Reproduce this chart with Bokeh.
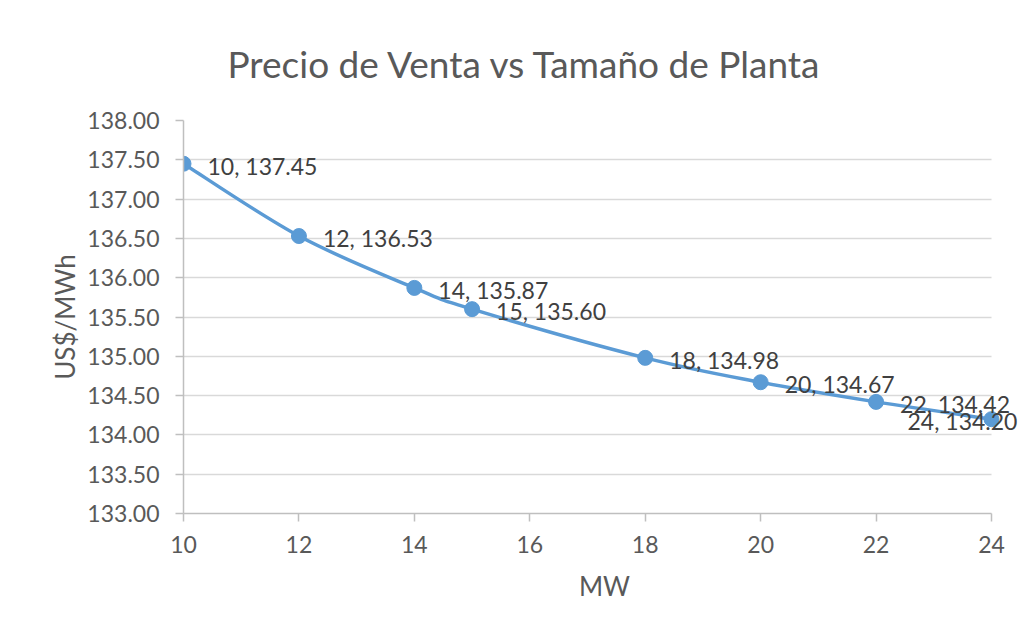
from bokeh.plotting import figure
from bokeh.models import (ColumnDataSource, LabelSet, NumeralTickFormatter,
                          FixedTicker, Range1d)
from bokeh.core.properties import value
from bokeh.embed import file_html
from bokeh.resources import INLINE

# ---- data ----
mw = [10, 12, 14, 15, 18, 20, 22, 24]
precio = [137.45, 136.53, 135.87, 135.60, 134.98, 134.67, 134.42, 134.20]
y_ticks = [133.0, 133.5, 134.0, 134.5, 135.0, 135.5, 136.0, 136.5, 137.0, 137.5, 138.0]
x_ticks = [10, 12, 14, 16, 18, 20, 22, 24]
title_text = "Precio de Venta vs Tamaño de Planta"
x_label = "MW"
y_label = "US$/MWh"

FONT = "Lato"
TEXT = "#595959"
BLUE = "#5b9bd5"

W, H = 1025, 630
LEFT, RIGHT_AXIS, TOP, BOTTOM = 183, 991, 120, 513
X0, X1 = x_ticks[0], x_ticks[-1]
# the frame runs to the canvas edge so the last data label is not clipped
x_end = X1 + (W - RIGHT_AXIS) / (RIGHT_AXIS - LEFT) * (X1 - X0)

p = figure(width=W, height=H, output_backend="svg", toolbar_location=None,
           x_range=Range1d(X0, x_end), y_range=Range1d(y_ticks[0], y_ticks[-1]),
           min_border_left=LEFT, min_border_right=0, min_border_top=TOP,
           min_border_bottom=H - BOTTOM)
p.outline_line_color = None
p.background_fill_color = "white"
p.border_fill_color = "white"

p.title.text = title_text
p.title.text_font = FONT
p.title.text_font_size = "37px"
p.title.text_font_style = "normal"
p.title.text_color = TEXT
p.title.align = "left"
p.title.offset = 44
p.title.standoff = 70

# axes
for ax in (p.xaxis[0], p.yaxis[0]):
    ax.axis_line_color = "#bfbfbf"
    ax.axis_line_width = 1.5
    ax.major_tick_line_color = "#bfbfbf"
    ax.major_tick_line_width = 1.5
    ax.major_tick_out = 8
    ax.major_tick_in = 0
    ax.minor_tick_line_color = None
    ax.major_label_text_font = FONT
    ax.major_label_text_font_size = "23px"
    ax.major_label_text_color = TEXT
    ax.axis_label_text_font = FONT
    ax.axis_label_text_font_size = "26px"
    ax.axis_label_text_font_style = "normal"
    ax.axis_label_text_color = TEXT

p.xaxis.ticker = FixedTicker(ticks=x_ticks)
p.xaxis.bounds = (X0, X1)
p.yaxis.ticker = FixedTicker(ticks=y_ticks)
p.yaxis.formatter = NumeralTickFormatter(format="0.00")
p.xaxis.axis_label = x_label
p.yaxis.axis_label = y_label
p.xaxis.major_label_standoff = 14
p.yaxis.major_label_standoff = 16
p.xaxis.axis_label_standoff = 14
p.yaxis.axis_label_standoff = 3

p.xgrid.grid_line_color = None
if "cross_bounds" in p.ygrid[0].properties():
    p.ygrid.grid_line_color = "#d9d9d9"
    p.ygrid.grid_line_width = 1.5
    p.ygrid.cross_bounds = (X0, X1)
else:
    p.ygrid.grid_line_color = None
    p.segment(x0=[X0] * len(y_ticks), x1=[X1] * len(y_ticks), y0=y_ticks, y1=y_ticks,
              line_color="#d9d9d9", line_width=1.5, level="underlay")

# smoothed line (Excel-style Catmull-Rom Bezier), control points from data
n = len(mw)
x0, y0, x1, y1, cx0, cy0, cx1, cy1 = [], [], [], [], [], [], [], []
for i in range(n - 1):
    pa = (mw[max(i - 1, 0)], precio[max(i - 1, 0)])
    pb = (mw[i], precio[i])
    pc = (mw[i + 1], precio[i + 1])
    pd = (mw[min(i + 2, n - 1)], precio[min(i + 2, n - 1)])
    x0.append(pb[0]); y0.append(pb[1]); x1.append(pc[0]); y1.append(pc[1])
    cx0.append(pb[0] + (pc[0] - pa[0]) / 6); cy0.append(pb[1] + (pc[1] - pa[1]) / 6)
    cx1.append(pc[0] - (pd[0] - pb[0]) / 6); cy1.append(pc[1] - (pd[1] - pb[1]) / 6)
p.bezier(x0=x0, y0=y0, x1=x1, y1=y1, cx0=cx0, cy0=cy0, cx1=cx1, cy1=cy1,
         line_color=BLUE, line_width=3.5)

src = ColumnDataSource(dict(
    x=mw, y=precio,
    lbl=[f"{a}, {b:.2f}" for a, b in zip(mw, precio)],
    xo=[24 if i < n - 1 else -84 for i in range(n)],
))
p.scatter("x", "y", source=src, size=15, fill_color=BLUE, line_color=BLUE)

labels = LabelSet(x="x", y="y", text="lbl", source=src, x_offset="xo", y_offset=-2,
                  text_font=value(FONT), text_font_size="23px", text_color="#404040",
                  text_baseline="middle", text_align="left")
p.add_layout(labels)

open("out.html", "w").write(file_html(p, INLINE))
